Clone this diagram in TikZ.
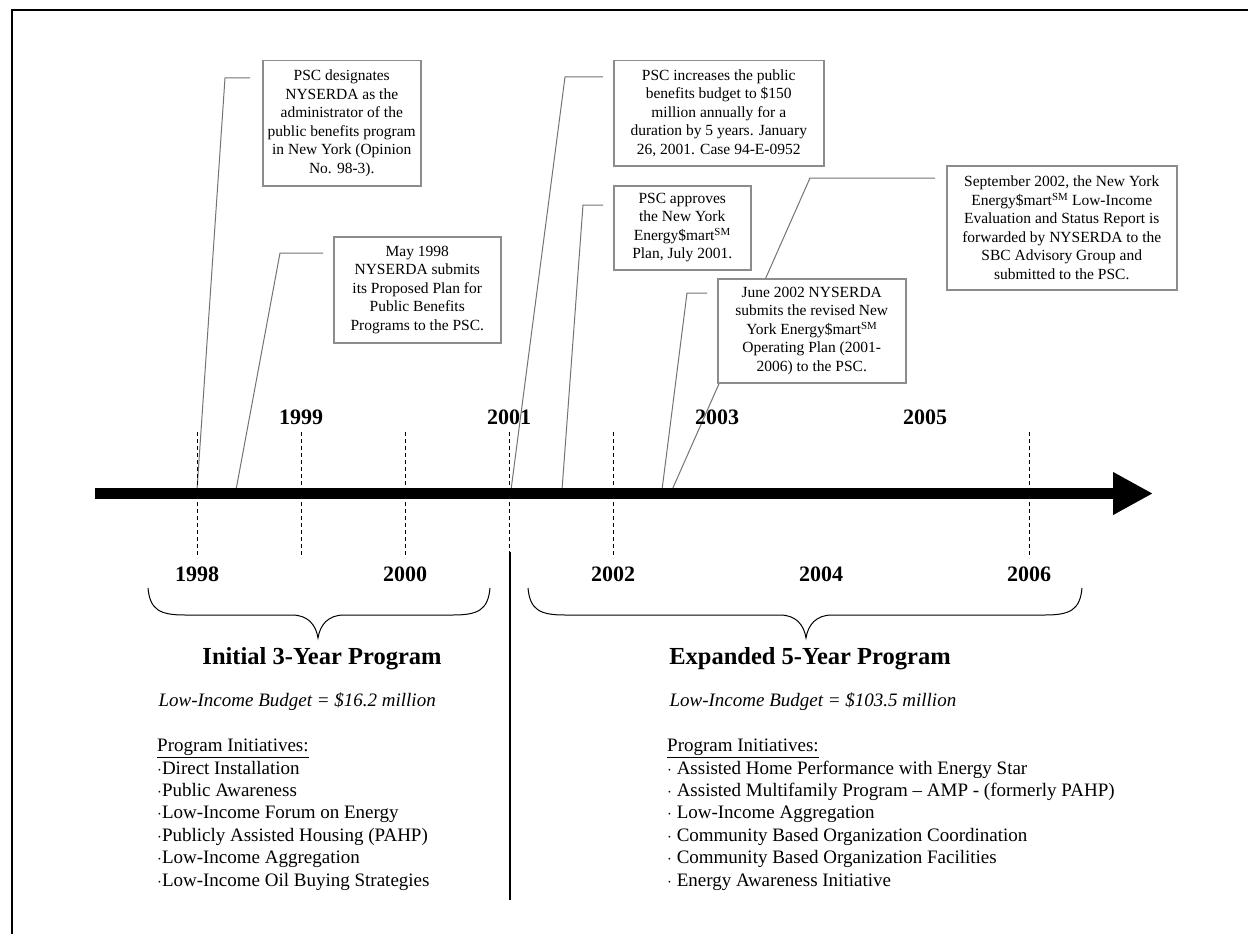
\documentclass[tikz,border=0pt]{standalone}
\usepackage{fontspec}
\setmainfont{Liberation Serif}
\usetikzlibrary{arrows.meta,calc,backgrounds}

\begin{document}
\begin{tikzpicture}[x=1pt,y=-1pt,
  event/.style={draw=black!45,line width=1.5pt,fill=white,align=center,inner sep=2pt,anchor=north west,font=\fontsize{15.5}{18.5}\selectfont},
  leader/.style={draw=black!55,line width=1pt},
  yeartick/.style={dash pattern=on 4pt off 3pt,line width=0.9pt},
  yearlabel/.style={font=\fontsize{22}{24}\selectfont\bfseries},
  progtitle/.style={anchor=base,font=\fontsize{24.5}{28}\selectfont\bfseries},
  budget/.style={anchor=base west,font=\fontsize{19}{22}\selectfont\itshape},
  initiatives/.style={anchor=north west,align=left,inner sep=0pt,font=\fontsize{19}{22.4}\selectfont},
  brace/.style={line width=1pt}]
\useasboundingbox (0,0) rectangle (1248,934);
\draw [line width=2pt] (12,934) -- (12,10) -- (1248,10);

\node [event,minimum width=158pt,minimum height=125pt] (desig) at (262,60) {PSC designates\\NYSERDA as the\\administrator of the\\public benefits program\\in New York (Opinion\\No. 98-3).};
\node [event,minimum width=167pt,minimum height=106pt] (submit) at (333,236) {May 1998\\NYSERDA submits\\its Proposed Plan for\\Public Benefits\\Programs to the PSC.};
\node [event,minimum width=210pt,minimum height=105pt] (increase) at (613,60) {PSC increases the public\\benefits budget to \$150\\million annually for a\\duration by 5 years. January\\26, 2001. Case 94-E-0952};
\node [event,minimum width=137pt,minimum height=84pt] (approve) at (613,185) {PSC approves\\the New York\\Energy\$mart\textsuperscript{SM}\\Plan, July 2001.};
\node [event,minimum width=188pt,minimum height=104pt] (revised) at (717,278) {June 2002 NYSERDA\\submits the revised New\\York Energy\$mart\textsuperscript{SM}\\Operating Plan (2001-\\2006) to the PSC.};
\node [event,minimum width=230pt,minimum height=124pt] (status) at (946,165) {September 2002, the New York\\Energy\$mart\textsuperscript{SM} Low-Income\\Evaluation and Status Report is\\forwarded by NYSERDA to the\\SBC Advisory Group and\\submitted to the PSC.};

\coordinate (p1) at (197,490);
\coordinate (p2) at (236,490);
\coordinate (p3) at (511,490);
\coordinate (p4) at (562,490);
\coordinate (p5) at (662,490);
\coordinate (p6) at (672,490);

\begin{scope}[on background layer]
\draw [leader] ($(desig.north west)+(-12,18)$) -- ++(-25,0) -- (p1);
\draw [leader] ($(submit.north west)+(-10,17)$) -- ++(-43,0) -- (p2);
\draw [leader] ($(increase.north west)+(-10,17)$) -- ++(-38,0) -- (p3);
\draw [leader] ($(approve.north west)+(-10,20)$) -- ++(-20,0) -- (p4);
\draw [leader] ($(revised.north west)+(-10,15)$) -- ++(-20,0) -- (p5);
\draw [leader] ($(status.north west)+(-11,13)$) -- ++(-125,0) -- (p6);
\end{scope}

\foreach \yr in {1998,...,2002,2006}
  \draw [yeartick] ({197+104*(\yr-1998)},432) -- ++(0,125);
\draw [line width=11pt,-{Triangle[length=40pt,width=40pt]}] (95,493.5) -- (1153,493.5);
\foreach \yr in {1999,2001,2003,2005}
  \node [yearlabel] (y\yr) at ({197+104*(\yr-1998)},417) {\yr};
\foreach \yr in {1998,2000,2002,2004,2006}
  \node [yearlabel] (y\yr) at ({197+104*(\yr-1998)},574) {\yr};

\draw [line width=2.5pt] (510,552) -- (510,900);

\draw [brace] (148,588) .. controls (150,610) and (160,615) .. (185,615) -- (292,615) .. controls (308,615) and (316,625) .. (318,638) .. controls (320,625) and (328,615) .. (344,615) -- (453,615) .. controls (478,615) and (488,610) .. (490,588);
\draw [brace] (528,588) .. controls (530,610) and (540,615) .. (565,615) -- (780,615) .. controls (796,615) and (804,625) .. (806,638) .. controls (808,625) and (816,615) .. (832,615) -- (1045,615) .. controls (1070,615) and (1080,610) .. (1082,588);

\node [progtitle] (initial) at (322,664) {Initial 3-Year Program};
\node [budget] (budget1) at (155,706) {Low-Income Budget = \$16.2 million};
\node [initiatives] (list1) at (157,739) {\underline{Program Initiatives:}\\$\cdot$Direct Installation\\$\cdot$Public Awareness\\$\cdot$Low-Income Forum on Energy\\$\cdot$Publicly Assisted Housing (PAHP)\\$\cdot$Low-Income Aggregation\\$\cdot$Low-Income Oil Buying Strategies};

\node [progtitle] (expanded) at (810,664) {Expanded 5-Year Program};
\node [budget] (budget2) at (666,706) {Low-Income Budget = \$103.5 million};
\node [initiatives] (list2) at (667,739) {\underline{Program Initiatives:}\\$\cdot$ Assisted Home Performance with Energy Star\\$\cdot$ Assisted Multifamily Program -- AMP - (formerly PAHP)\\$\cdot$ Low-Income Aggregation\\$\cdot$ Community Based Organization Coordination\\$\cdot$ Community Based Organization Facilities\\$\cdot$ Energy Awareness Initiative};
\end{tikzpicture}
\end{document}
